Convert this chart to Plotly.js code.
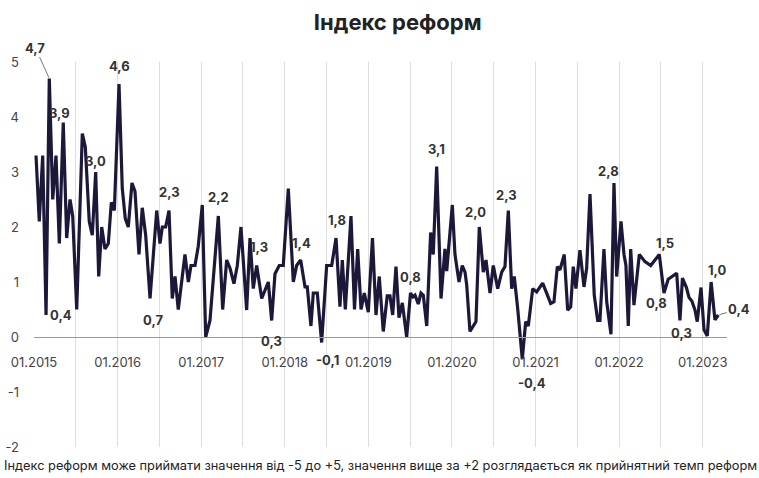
<!DOCTYPE html>
<html>
<head>
<meta charset="utf-8">
<script src="https://cdn.plot.ly/plotly-3.0.1.min.js"></script>
<style>html,body{margin:0;padding:0;background:#fff}#chart{width:759px;height:478px}</style>
</head>
<body>
<div id="chart"></div>
<script>
// decimal-year dates of each observation
const dates = [
2015.024,2015.063,2015.104,2015.144,2015.183,2015.224,2015.263,2015.303,2015.350,2015.391,
2015.431,2015.463,2015.511,2015.578,2015.614,2015.661,2015.697,2015.738,2015.774,2015.810,
2015.849,2015.889,2015.925,2015.961,2016.017,2016.056,2016.092,2016.128,2016.172,2016.208,
2016.256,2016.295,2016.336,2016.388,2016.468,2016.507,2016.535,2016.575,2016.615,2016.654,
2016.687,2016.726,2016.806,2016.846,2016.878,2016.926,2016.965,2017.013,2017.054,2017.105,
2017.205,2017.257,2017.305,2017.345,2017.392,2017.432,2017.476,2017.544,2017.584,2017.623,
2017.664,2017.695,2017.724,2017.763,2017.803,2017.843,2017.883,2017.934,2017.982,2018.042,
2018.102,2018.142,2018.190,2018.242,2018.269,2018.313,2018.341,2018.389,2018.441,2018.501,
2018.561,2018.613,2018.660,2018.688,2018.724,2018.792,2018.834,2018.872,2018.912,2018.951,
2018.980,2018.999,2019.049,2019.091,2019.130,2019.178,2019.226,2019.258,2019.291,2019.330,
2019.366,2019.406,2019.458,2019.504,2019.534,2019.558,2019.597,2019.629,2019.657,2019.698,
2019.745,2019.776,2019.817,2019.869,2019.916,2019.937,2020.004,2020.036,2020.084,2020.123,
2020.156,2020.176,2020.215,2020.287,2020.327,2020.375,2020.407,2020.455,2020.494,2020.547,
2020.595,2020.634,2020.674,2020.714,2020.745,2020.786,2020.841,2020.882,2020.913,2020.966,
2021.013,2021.085,2021.181,2021.220,2021.260,2021.292,2021.343,2021.384,2021.420,2021.451,
2021.483,2021.531,2021.579,2021.611,2021.651,2021.702,2021.743,2021.770,2021.818,2021.851,
2021.902,2021.938,2021.970,2022.022,2022.058,2022.081,2022.109,2022.138,2022.177,2022.241,
2022.309,2022.377,2022.480,2022.536,2022.587,2022.688,2022.727,2022.757,2022.805,2022.835,
2022.871,2022.907,2022.934,2022.979,2023.015,2023.054,2023.100,2023.146,2023.186
];
// reform index values
const values = [
3.3,2.1,3.3,0.4,4.7,2.5,3.3,1.7,3.9,1.8,
2.5,2.2,0.5,3.7,3.45,2.1,1.85,3.0,1.1,2.0,
1.6,1.7,2.45,2.3,4.6,2.7,2.15,2.0,2.8,2.65,
1.5,2.35,1.85,0.7,2.3,1.7,2.0,2.0,2.3,0.7,
1.1,0.5,1.5,1.0,1.3,1.3,1.65,2.4,0.0,0.3,
2.2,0.5,1.4,1.25,0.97,1.3,2.0,0.49,1.8,0.88,
1.3,1.03,0.7,0.85,1.0,0.3,1.15,1.3,1.3,2.7,
1.0,1.3,1.4,0.91,0.91,0.2,0.8,0.8,-0.1,1.3,
1.3,1.8,0.55,1.4,0.5,2.2,0.5,1.6,0.5,0.8,
0.6,0.45,1.8,0.4,1.1,0.1,0.75,0.75,0.4,1.28,
0.35,0.62,0.0,0.8,0.73,0.76,0.6,0.8,0.76,0.2,
1.9,1.5,3.1,0.7,1.6,1.2,2.4,1.5,1.0,1.3,
1.18,0.95,0.1,0.28,2.0,1.18,1.4,0.8,1.3,0.88,
1.18,1.28,2.3,0.88,1.1,0.52,-0.4,0.28,0.2,0.88,
0.82,0.98,0.61,0.64,1.28,1.22,1.5,0.49,0.55,1.28,
0.88,1.58,0.91,1.25,2.6,0.76,0.3,0.3,1.6,0.64,
0.05,2.8,1.1,2.1,1.5,1.3,0.2,1.6,0.58,1.5,
1.37,1.3,1.5,0.8,1.05,1.16,0.3,1.07,0.9,0.72,
0.65,0.49,0.28,0.9,0.13,0.02,1.0,0.31,0.4
];
// labelled observations (by date)
const labelDates = [2015.183,2015.350,2015.144,2015.738,2016.017,2016.388,2016.615,2017.205,2017.664,
  2018.190,2017.843,2018.441,2018.613,2019.504,2019.817,2020.327,2020.674,2020.841,2021.938,
  2022.480,2022.536,2022.727,2023.100,2023.186];
const tickYears = [2015,2016,2017,2018,2019,2020,2021,2022,2023];
const tickLabels = ["01.2015","01.2016","01.2017","01.2018","01.2019","01.2020","01.2021","01.2022","01.2023"];
const yTicks = [-2,-1,0,1,2,3,4,5];
const yTickLabels = ["-2","-1","0","1","2","3","4","5"];
const titleText = "Індекс реформ";
const footnote = "Індекс реформ може приймати значення від -5 до +5, значення вище за +2 розглядається як прийнятний темп реформ";

// label offsets in pixels (style)
const labelOffsets = [[-14,-31,true],[-4,-10],[15,0],[0,-11],[0,-18],[3,21],[0,-19],[0,-19],[2,-19],
  [1,-17],[0,20],[6,17],[1,-18],[0,-16],[0,-18],[-4,-15],[-2,-16],[10,24],[-5,-12],
  [6,-12],[-7,10],[2,12],[6,-12],[21,-6,true]];

const fmt = v => v.toFixed(1).replace('.', ',');
const annotations = labelDates.map((d, i) => {
  const idx = dates.indexOf(d);
  const v = values[idx];
  const [dx, dy, arrow] = labelOffsets[i];
  const a = {x: d, y: v, xref: 'x', yref: 'y', text: '<b>' + fmt(v) + '</b>',
    font: {family: 'Inter, Roboto, sans-serif', size: 13, color: '#333'}};
  if (arrow) {
    Object.assign(a, {showarrow: true, ax: dx, ay: dy, arrowhead: 0, arrowwidth: 1,
      arrowcolor: '#777', standoff: 1});
  } else {
    Object.assign(a, {showarrow: false, xshift: dx, yshift: -dy});
  }
  return a;
});
annotations.push({xref: 'paper', yref: 'paper', x: 0.5007, y: -0.049, yanchor: 'middle',
  showarrow: false, text: footnote, font: {family: 'Inter, Roboto, sans-serif', size: 12.8, color: '#222'}});

const trace = {x: dates, y: values, type: 'scatter', mode: 'lines',
  line: {color: '#1c1839', width: 3.2}, hoverinfo: 'skip'};

const layout = {
  width: 759, height: 478,
  margin: {l: 34, r: 32, t: 62, b: 31},
  paper_bgcolor: '#fff', plot_bgcolor: '#fff',
  showlegend: false,
  title: {text: '<b>' + titleText + '</b>', x: 0.524, xref: 'container', xanchor: 'center',
    y: 0.954, yref: 'container', yanchor: 'middle',
    font: {family: 'Inter, Roboto, sans-serif', size: 22, color: '#222'}},
  xaxis: {range: [2015, 2023.29], tickmode: 'array', tickvals: tickYears, ticktext: tickLabels,
    showgrid: true, gridcolor: '#dedede', gridwidth: 1,
    minor: {tickmode: 'linear', tick0: 2015, dtick: 0.5, showgrid: true, gridcolor: '#dedede', ticks: ''},
    zeroline: false, showline: true, linecolor: '#999', linewidth: 1,
    anchor: 'free', position: 2/7, ticks: '', ticklabelstandoff: 13,
    tickfont: {family: 'Inter, Roboto, sans-serif', size: 13, color: '#444'}},
  yaxis: {range: [-2, 5], tickmode: 'array', tickvals: yTicks, ticktext: yTickLabels,
    showgrid: false, zeroline: false, showline: false, ticks: '', ticklabelstandoff: 14,
    tickfont: {family: 'Inter, Roboto, sans-serif', size: 13, color: '#444'}},
  annotations: annotations
};
Plotly.newPlot('chart', [trace], layout, {staticPlot: true, displayModeBar: false});
</script>
</body>
</html>
